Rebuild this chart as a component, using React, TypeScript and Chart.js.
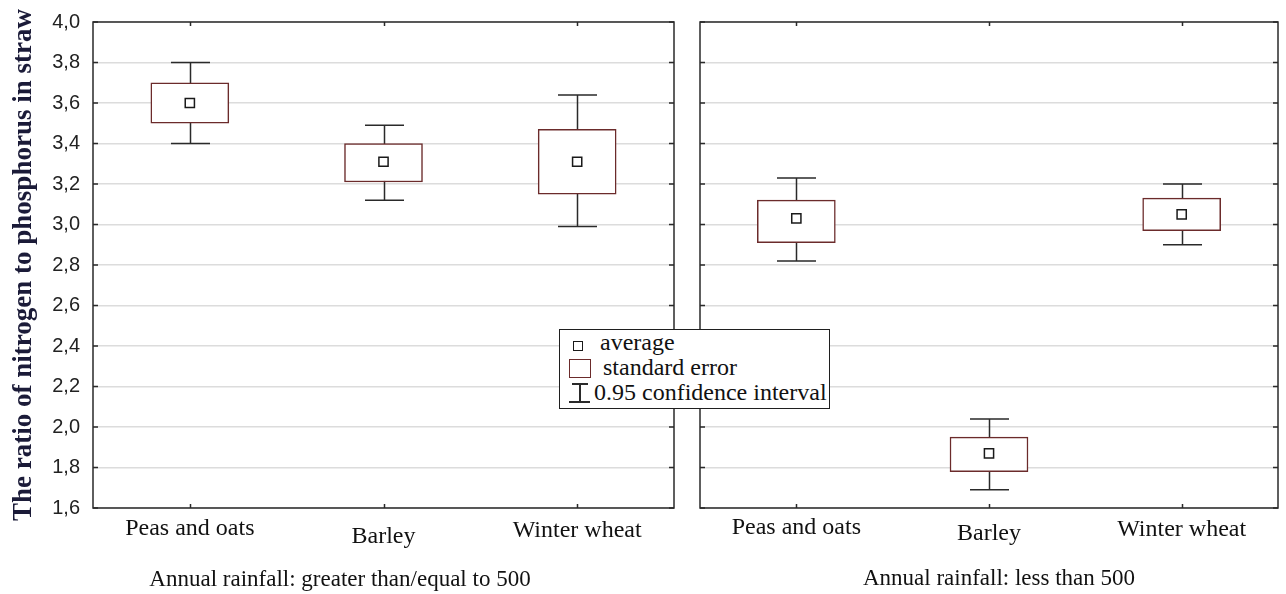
import React, { useEffect, useRef } from 'react';
import { Chart, registerables } from 'chart.js';

Chart.register(...registerables);

// ---------- data ----------
const categories = ['Peas and oats', 'Barley', 'Winter wheat'];
const yMin = 1.6;
const yMax = 4.0;
const yStep = 0.2;

// Annual rainfall >= 500
const highMean = [3.6, 3.31, 3.31];
const highSeLow = [3.5, 3.21, 3.15];
const highSeHigh = [3.7, 3.4, 3.47];
const highCiLow = [3.4, 3.12, 2.99];
const highCiHigh = [3.8, 3.49, 3.64];

// Annual rainfall < 500
const lowMean = [3.03, 1.87, 3.05];
const lowSeLow = [2.91, 1.78, 2.97];
const lowSeHigh = [3.12, 1.95, 3.13];
const lowCiLow = [2.82, 1.69, 2.9];
const lowCiHigh = [3.23, 2.04, 3.2];

const panelTitles = ['Annual rainfall: greater than/equal to 500', 'Annual rainfall: less than 500'];
const yAxisTitle = 'The ratio of nitrogen to phosphorus in straw';
const legendLabels = ['average', 'standard error', '0.95 confidence interval'];

// ---------- styles ----------
const SERIF = "'Liberation Serif', 'Times New Roman', serif";
const SANS = "'Liberation Sans', Arial, sans-serif";
const BOX_COLOR = '#6b2b2b';
const LINE_COLOR = '#2a2a2a';
const GRID_COLOR = '#dcdcdc';

const panelPlugin = {
  id: 'panelDecor',
  beforeDatasetsDraw(chart: any, _args: any, opts: any) {
    const { ctx } = chart;
    const xs = chart.scales.x;
    const ys = chart.scales.y;
    ctx.save();
    ctx.strokeStyle = LINE_COLOR;
    ctx.lineWidth = 1.5;
    opts.ciLow.forEach((lo: number, i: number) => {
      const px = Math.round(xs.getPixelForValue(i)) + 0.5;
      const pLo = ys.getPixelForValue(lo);
      const pHi = ys.getPixelForValue(opts.ciHigh[i]);
      const h = opts.capHalf;
      ctx.beginPath();
      ctx.moveTo(px, pLo);
      ctx.lineTo(px, pHi);
      ctx.moveTo(px - h, pLo);
      ctx.lineTo(px + h, pLo);
      ctx.moveTo(px - h, pHi);
      ctx.lineTo(px + h, pHi);
      ctx.stroke();
    });
    ctx.restore();
  },
  afterDraw(chart: any, _args: any, opts: any) {
    const { ctx, chartArea: a } = chart;
    const xs = chart.scales.x;
    const ys = chart.scales.y;
    ctx.save();
    // frame
    ctx.strokeStyle = LINE_COLOR;
    ctx.lineWidth = 1.5;
    ctx.strokeRect(a.left, a.top, a.right - a.left, a.bottom - a.top);
    // inward tick marks
    ctx.beginPath();
    ys.ticks.forEach((_t: any, i: number) => {
      const py = ys.getPixelForTick(i);
      ctx.moveTo(a.left, py);
      ctx.lineTo(a.left + 5, py);
      ctx.moveTo(a.right, py);
      ctx.lineTo(a.right - 5, py);
    });
    xs.ticks.forEach((_t: any, i: number) => {
      const px = Math.round(xs.getPixelForTick(i)) + 0.5;
      ctx.moveTo(px, a.top);
      ctx.lineTo(px, a.top + 4);
      ctx.moveTo(px, a.bottom);
      ctx.lineTo(px, a.bottom - 4);
    });
    ctx.stroke();
    // category labels
    ctx.fillStyle = '#111';
    ctx.font = `24px ${SERIF}`;
    ctx.textAlign = 'center';
    ctx.textBaseline = 'middle';
    categories.forEach((c, i) => {
      ctx.fillText(c, xs.getPixelForValue(i), a.bottom + opts.labelDy[i]);
    });
    // panel title
    ctx.font = `23px ${SERIF}`;
    ctx.fillText(opts.title, (a.left + a.right) / 2 + opts.titleDx, a.bottom + opts.titleDy);
    ctx.restore();
  },
};

function makeConfig(
  mean: number[],
  seLow: number[],
  seHigh: number[],
  ciLow: number[],
  ciHigh: number[],
  opts: { left: boolean; padLeft: number; padRight: number; title: string; titleDx: number; titleDy: number; labelDy: number[] }
): any {
  return {
    type: 'bar',
    data: {
      labels: categories,
      datasets: [
        {
          type: 'line',
          data: mean,
          showLine: false,
          pointStyle: 'rect',
          pointRadius: 6.5,
          pointBorderWidth: 1.5,
          pointBackgroundColor: '#ffffff',
          pointBorderColor: '#1a1a1a',
          order: 1,
        },
        {
          type: 'bar',
          data: categories.map((_c, i) => [seLow[i], seHigh[i]]),
          backgroundColor: '#ffffff',
          borderColor: BOX_COLOR,
          borderWidth: 1.5,
          borderSkipped: false,
          barThickness: 78,
          order: 2,
        },
      ],
    },
    options: {
      animation: false,
      responsive: false,
      maintainAspectRatio: false,
      events: [],
      layout: { padding: { top: 22, right: opts.padRight, left: opts.padLeft, bottom: 0 } },
      plugins: {
        legend: { display: false },
        tooltip: { enabled: false },
        panelDecor: {
          ciLow,
          ciHigh,
          capHalf: 19.5,
          title: opts.title,
          titleDx: opts.titleDx,
          titleDy: opts.titleDy,
          labelDy: opts.labelDy,
        },
      },
      scales: {
        x: {
          type: 'category',
          offset: true,
          grid: { display: false },
          border: { display: false },
          ticks: { display: false },
          afterFit: (s: any) => {
            s.height = 86;
            s.paddingLeft = 0;
            s.paddingRight = 0;
          },
        },
        y: {
          min: yMin,
          max: yMax,
          grid: { color: GRID_COLOR, lineWidth: 1.5, drawTicks: false },
          border: { display: false },
          ticks: {
            display: opts.left,
            stepSize: yStep,
            padding: 13,
            color: '#222',
            font: { family: SANS, size: 20 },
            callback: (v: any) => Number(v).toFixed(1).replace('.', ','),
          },
          title: {
            display: opts.left,
            text: yAxisTitle,
            color: '#1b1b38',
            font: { family: SERIF, size: 27, weight: 'bold' },
            padding: { top: 8, bottom: 0 },
          },
          afterFit: (s: any) => {
            s.width = opts.left ? 93 : 0;
            s.paddingTop = 0;
            s.paddingBottom = 0;
          },
        },
      },
    },
    plugins: [panelPlugin],
  };
}

function Legend() {
  const base: React.CSSProperties = { position: 'absolute', boxSizing: 'border-box' };
  const text: React.CSSProperties = {
    position: 'absolute',
    fontFamily: SERIF,
    fontSize: 24,
    lineHeight: '24px',
    height: 24,
    whiteSpace: 'nowrap',
    color: '#111',
  };
  return (
    <div
      style={{
        ...base,
        left: 559,
        top: 329,
        width: 271,
        height: 80,
        border: '1.5px solid #1f1f1f',
        background: '#fff',
        zIndex: 5,
      }}
    >
      <div style={{ ...base, left: 13, top: 11, width: 10, height: 10, border: '1.5px solid #1a1a1a' }} />
      <div style={{ ...text, left: 40, top: 0 }}>{legendLabels[0]}</div>
      <div style={{ ...base, left: 9, top: 29, width: 22, height: 19, border: `1.5px solid ${BOX_COLOR}` }} />
      <div style={{ ...text, left: 43, top: 25 }}>{legendLabels[1]}</div>
      <div style={{ ...base, left: 12, top: 53, width: 16, height: 1.5, background: LINE_COLOR }} />
      <div style={{ ...base, left: 19, top: 53, width: 1.5, height: 19, background: LINE_COLOR }} />
      <div style={{ ...base, left: 9, top: 71, width: 21, height: 1.5, background: LINE_COLOR }} />
      <div style={{ ...text, left: 34, top: 50 }}>{legendLabels[2]}</div>
    </div>
  );
}

export default function App() {
  const leftRef = useRef<HTMLCanvasElement>(null);
  const rightRef = useRef<HTMLCanvasElement>(null);

  useEffect(() => {
    const c1 = new Chart(
      leftRef.current as HTMLCanvasElement,
      makeConfig(highMean, highSeLow, highSeHigh, highCiLow, highCiHigh, {
        left: true,
        padLeft: 0,
        padRight: 12,
        title: panelTitles[0],
        titleDx: -43.5,
        titleDy: 72,
        labelDy: [21, 29, 23],
      })
    );
    const c2 = new Chart(
      rightRef.current as HTMLCanvasElement,
      makeConfig(lowMean, lowSeLow, lowSeHigh, lowCiLow, lowCiHigh, {
        left: false,
        padLeft: 6,
        padRight: 8,
        title: panelTitles[1],
        titleDx: 10,
        titleDy: 71,
        labelDy: [20, 26, 22],
      })
    );
    return () => {
      c1.destroy();
      c2.destroy();
    };
  }, []);

  return (
    <div
      style={{
        position: 'fixed',
        left: 0,
        top: 0,
        width: 1286,
        height: 594,
        background: '#fff',
        overflow: 'hidden',
      }}
    >
      <canvas
        ref={leftRef}
        width={686}
        height={594}
        style={{ position: 'absolute', left: 0, top: 0, width: 686, height: 594 }}
      />
      <canvas
        ref={rightRef}
        width={594}
        height={594}
        style={{ position: 'absolute', left: 692, top: 0, width: 594, height: 594 }}
      />
      <Legend />
    </div>
  );
}
